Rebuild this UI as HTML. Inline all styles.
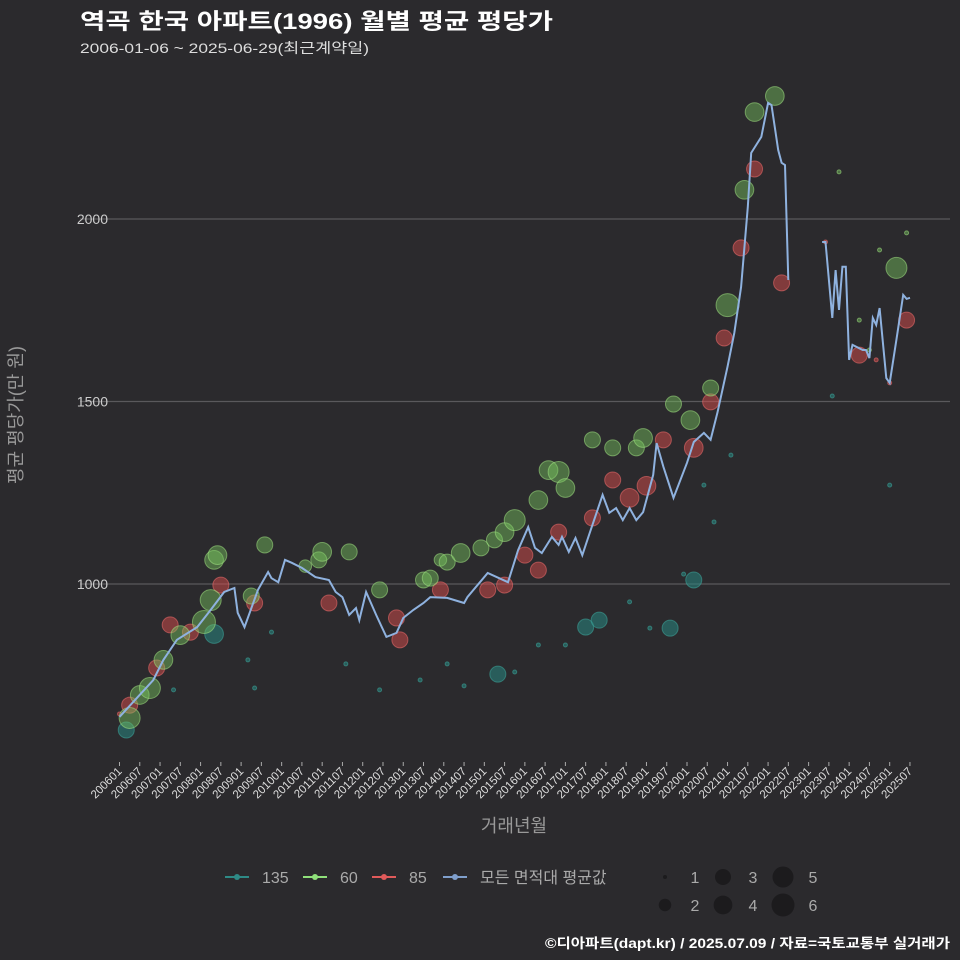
<!DOCTYPE html>
<html><head><meta charset="utf-8"><style>
body{margin:0;background:#2b2a2d;}
svg{display:block;font-family:"Liberation Sans","Noto Sans CJK KR",sans-serif;}
</style></head><body>
<svg id="c" width="960" height="960">
<rect width="960" height="960" fill="#2b2a2d"/>
<text x="80" y="29" fill="#fff" font-size="22" font-weight="bold" textLength="473" lengthAdjust="spacingAndGlyphs">역곡 한국 아파트(1996) 월별 평균 평당가</text>
<text x="80" y="53" fill="#ddd" font-size="14" textLength="289" lengthAdjust="spacingAndGlyphs">2006-01-06 ~ 2025-06-29(최근계약일)</text>
<g id="grid"></g><g id="pts"></g><g id="line"></g><g id="xaxis"></g>
<text x="514" y="832" fill="#999" font-size="18" text-anchor="middle">거래년월</text>
<text transform="translate(22,415) rotate(-90)" fill="#999" font-size="18" text-anchor="middle">평균 평당가(만 원)</text>
<g id="legend"></g>
<text x="545" y="948" fill="#fff" font-size="13.5" font-weight="bold" textLength="405" lengthAdjust="spacingAndGlyphs">©디아파트(dapt.kr) / 2025.07.09 / 자료=국토교통부 실거래가</text>
</svg>
<script>
const yTicks=[1000,1500,2000];
const lineMonths=[0,10,13,17,23,27,31,34,35,37,41,44,45,47,49,51,54,58,62,64,66,68,70,71,73,76,79,82,84,87,90,92,97,102,103,109,115,118,121,123,125,128,130,131,133,135,137,139,143,145,147,149,151,153,155,158,159,161,164,168,170,173,175,177,180,182,184,186,187,190,192,193,195,196,197,198,null,208,209,211,212,213,214,215,216,217,220,221,222,223,224,225,227,228,230,232,233,234];
const lineValues=[636,737,792,847,882,929,978,989,921,882,984,1033,1016,1005,1066,1058,1044,1019,1011,978,964,915,934,901,978,915,855,866,907,929,948,964,962,948,964,1030,1005,1093,1156,1099,1085,1129,1107,1129,1088,1126,1079,1134,1244,1195,1208,1175,1208,1175,1197,1299,1386,1321,1236,1332,1389,1414,1395,1469,1595,1688,1814,2033,2181,2225,2318,2312,2189,2154,2148,1833,null,1937,1937,1729,1860,1751,1869,1869,1614,1655,1641,1641,1619,1729,1710,1756,1564,1551,1669,1792,1781,1784];
const g60Months=[3,6,9,13,18,25,27,28,29,39,43,55,59,60,68,77,90,92,95,97,101,107,111,114,117,124,127,130,132,140,146,153,155,164,169,175,180,185,188,194,213,230,233,225,219,222];
const g60Values=[633,696,715,792,860,896,956,1066,1079,967,1107,1049,1066,1088,1088,984,1011,1016,1066,1060,1085,1099,1121,1142,1175,1230,1312,1307,1263,1395,1373,1373,1400,1493,1449,1537,1764,2080,2293,2337,2129,1866,1962,1915,1723,1641];
const g60Sizes=[5,4,5,4,4,6,5,4,4,3,3,2,3,4,3,3,3,3,2,3,4,3,3,4,5,4,4,5,4,3,3,3,4,3,4,3,6,4,4,4,1,5,1,1,1,1];
const g85Months=[0,3,11,15,21,30,40,62,82,83,95,109,114,120,124,130,140,146,151,156,161,170,175,179,184,188,196,219,233,209,224,228];
const g85Values=[644,668,770,888,868,997,948,948,907,847,984,984,997,1079,1038,1142,1181,1285,1236,1269,1395,1373,1499,1674,1921,2137,1825,1627,1723,1937,1614,1551];
const g85Sizes=[1,3,3,3,3,3,3,3,3,3,3,3,3,3,3,3,3,3,4,4,3,4,3,3,3,3,3,3,3,1,1,1];
const g135Months=[2,16,28,38,40,45,67,77,89,97,102,112,117,124,132,138,142,151,157,163,167,170,173,176,181,211,228];
const g135Values=[600,710,863,792,715,868,781,710,737,781,721,753,759,833,833,882,901,951,879,879,1027,1011,1271,1170,1353,1515,1271];
const g135Sizes=[3,1,4,1,1,1,1,1,1,1,1,3,1,1,1,3,3,1,1,3,1,3,1,1,1,1,1];
const xTickLabels=[];for(let yr=2006;yr<=2025;yr++){xTickLabels.push(yr+'01');xTickLabels.push(yr+'07');}

const NS='http://www.w3.org/2000/svg';
const X=m=>119.5+m*3.378;
const Y=v=>584-(v-1000)*0.365;
const R=s=>2+9.5*Math.sqrt((s-1)/5);
function mk(tag,attrs,parent){const e=document.createElementNS(NS,tag);for(const k in attrs)e.setAttribute(k,attrs[k]);parent.appendChild(e);return e;}
const grid=document.getElementById('grid');
yTicks.forEach(t=>{
 const l=mk('line',{x1:80,x2:950,y1:Y(t),y2:Y(t),stroke:'#5a595c','stroke-width':1.3},grid);
 
 
 const tx=mk('text',{x:108,y:Y(t)+5,fill:'#ccc','font-size':14,'text-anchor':'end'},grid);
 tx.textContent=t;
 
 
});
const xa=document.getElementById('xaxis');
xTickLabels.forEach((lab,i)=>{
 const x=X(i*6);
 const t=mk('line',{x1:x,x2:x,y1:762,y2:766,stroke:'#aaa'},xa);
 
 
 const tx=mk('text',{transform:`translate(${x+3},${772}) rotate(-45)`,fill:'#ddd','font-size':11.5,'text-anchor':'end'},xa);
 tx.textContent=lab;
 
 
});
const pts=document.getElementById('pts');
function series(ms,vs,ss,fill,stroke,name){
 ms.forEach((m,i)=>{
  const c=mk('circle',{cx:X(m),cy:Y(vs[i]),r:R(ss[i]),fill:fill,stroke:stroke,'stroke-width':1},pts);
  
  
 });
}
series(g135Months,g135Values,g135Sizes,'rgba(40,135,130,0.55)','rgba(60,160,150,0.6)','point-135');
series(g85Months,g85Values,g85Sizes,'rgba(215,75,75,0.5)','rgba(240,110,110,0.55)','point-85');
series(g60Months,g60Values,g60Sizes,'rgba(120,195,95,0.45)','rgba(160,225,130,0.55)','point-60');
const lg=document.getElementById('line');
let d='',pen=false;
lineMonths.forEach((m,i)=>{if(m===null){pen=false;return;}d+=(pen?'L':'M')+X(m).toFixed(1)+' '+Y(lineValues[i]).toFixed(1)+' ';pen=true;});
const p=mk('path',{d:d,fill:'none',stroke:'#8fb2df','stroke-width':2},lg);


const leg=document.getElementById('legend');
[['135','#2e8a86',237],['60','#8fe07a',315],['85','#e05a5a',384],['모든 면적대 평균값','#7f9fcc',455]].forEach(([t,c,x])=>{
 const g=mk('g',{},leg);
 
 
 mk('line',{x1:x-12,x2:x+12,y1:877,y2:877,stroke:c,'stroke-width':2},g);
 mk('circle',{cx:x,cy:877,r:3,fill:c},g);
 const tx=mk('text',{x:x+25,y:883,fill:'#aaa','font-size':16},g);tx.textContent=t;
});
[[1,665,877,695],[2,665,905,695],[3,723,877,753],[4,723,905,753],[5,783,877,813],[6,783,905,813]].forEach(([s,cx,cy,tx])=>{
 const g=mk('g',{},leg);
 
 
 mk('circle',{cx:cx,cy:cy,r:R(s),fill:'#1c1b1d'},g);
 const t=mk('text',{x:tx,y:cy+6,fill:'#aaa','font-size':16,'text-anchor':'middle'},g);t.textContent=s;
});
</script>
</body></html>
